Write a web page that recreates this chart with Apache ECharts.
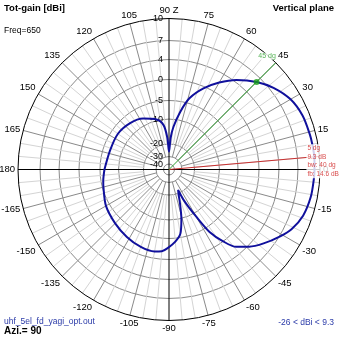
<!DOCTYPE html>
<html>
<head>
<meta charset="utf-8">
<script src="https://cdn.jsdelivr.net/npm/echarts@6/dist/echarts.min.js"></script>
<style>
  html, body { margin: 0; padding: 0; background: #fff; }
  #c { width: 339px; height: 339px; }
</style>
</head>
<body>
<div id="c"></div>
<script>
// Elevation angle (deg; 0 = horizon, 90 = zenith, +-180 = back horizon)
const ANGLES = [-180, -170, -165, -150, -135, -122, -110, -100, -95, -91, -85, -80, -76, -72, -69, -66, -64,
  -60, -57, -53, -49, -44, -38, -31, -26, -19, -11, -4, 0, 5, 10, 14, 22, 30, 38, 45, 53, 60, 67, 74, 79,
  84, 87, 90, 93, 97, 104, 117, 130, 145, 162, 180];
// Total gain at each angle (dBi)
const GAIN_DBI = [-6.2, -5.6, -5.3, -4.1, -3.3, -2.5, -1.8, -1.6, -1.9, -2.7, -4.2, -6.0, -9.8, -16, -19.5, -22.5, -16,
  -8.9, -3.7, 0, 2.5, 4.2, 5.6, 7.1, 8.0, 8.75, 9.1, 9.2, 9.25, 9.3, 9.25, 9.2, 9.05, 8.55, 7.5, 6.2, 4.35, 2.1, -0.45, -3.8, -7.8,
  -13, -17.5, -26, -17.5, -12.3, -9.7, -8.2, -7.3, -6.8, -6.9, -6.2];

// Gain rings (dBi) and their labels
const RING_DB = [10, 7, 4, 0, -5, -10, -20, -30, -40];
const RING_LABELS = ['10', '7', '4', '0', '-5', '-10', '-20', '-30', '-40'];

// Annotations
const MARK_ANGLE = 45;
const PEAK_ANGLE = 5;
const PEAK_GAIN = 9.3;
const BEAMWIDTH = 40;
const FRONT_BACK = 14.6;
const FREQ = 650;
const AZIMUTH = 90;
const FILE_NAME = 'uhf_5el_fd_yagi_opt.out';

// Radial gain scale: gain (dBi) -> fraction of the outer ring, piecewise between rings
const RING_FRAC = [1, 0.854, 0.728, 0.596, 0.457, 0.334, 0.169, 0.086, 0.036];
function gainScale(db) {
  if (db >= RING_DB[0]) return 1;
  for (let i = 0; i < RING_DB.length - 1; i++) {
    const hi = RING_DB[i], lo = RING_DB[i + 1];
    if (db <= hi && db >= lo) {
      const t = (db - lo) / (hi - lo);
      return RING_FRAC[i + 1] + t * (RING_FRAC[i] - RING_FRAC[i + 1]);
    }
  }
  const last = RING_DB.length - 1;
  return Math.max(0, RING_FRAC[last] * (1 - (RING_DB[last] - db) / 20));
}

const FONT = "'Liberation Sans', Arial, sans-serif";
const CENTER = [169, 169.5];
const R = 151;
const RING_VALUES = RING_DB.map(gainScale);
// the innermost ring label sits in its own axis so it is not dropped as an overlap
const RING_VALUES_OUTER = RING_VALUES.slice(0, -1);
const RING_VALUES_INNER = RING_VALUES.slice(-1);

const angleBase = { type: 'value', min: -180, max: 180, interval: 15, startAngle: 180, clockwise: false };
const hidden = { show: false };

function angleLabel(v) {
  if (v === -180) return '180';
  if (v === 180) return '';
  if (v === 90) return '90 Z';
  return String(v);
}
function ringLabel(v) {
  for (let i = 0; i < RING_VALUES.length; i++) {
    if (Math.abs(RING_VALUES[i] - v) < 1e-6) return RING_LABELS[i];
  }
  return '';
}
function ringLabelAxis(polarIndex, values) {
  return { polarIndex: polarIndex, type: 'value', min: 0, max: 1,
    axisLine: hidden, splitLine: hidden,
    axisTick: { show: false, customValues: values },
    axisLabel: { show: true, customValues: values, margin: 6, formatter: ringLabel,
      hideOverlap: false, showMinLabel: true, showMaxLabel: true, lineHeight: 7,
      fontFamily: FONT, fontSize: 9, color: '#000' } };
}

const patternData = ANGLES.map((a, i) => [gainScale(GAIN_DBI[i]), a]);
const markGain = GAIN_DBI[ANGLES.indexOf(MARK_ANGLE)];
const minGain = Math.min(...GAIN_DBI);
const maxGain = Math.max(...GAIN_DBI);

const T = 'rgba(0,0,0,0)';
const GRID = '#8a8a8a';

const option = {
  animation: false,
  backgroundColor: '#fff',
  title: [
    { text: 'Tot-gain [dBi]', left: 4, top: 3, padding: 0,
      textStyle: { fontFamily: FONT, fontSize: 9.5, fontWeight: 'bold', color: '#000' } },
    { text: 'Vertical plane', right: 5, top: 3, padding: 0,
      textStyle: { fontFamily: FONT, fontSize: 9.5, fontWeight: 'bold', color: '#000' } },
    { text: 'Freq=' + FREQ, left: 4, top: 26, padding: 0,
      textStyle: { fontFamily: FONT, fontSize: 8.5, fontWeight: 'normal', color: '#000' } },
    { text: FILE_NAME, left: 4, top: 317, padding: 0,
      textStyle: { fontFamily: FONT, fontSize: 8.5, fontWeight: 'normal', color: '#2a3aa8' } },
    { text: 'Azi.= ' + AZIMUTH, left: 4, top: 326, padding: 0,
      textStyle: { fontFamily: FONT, fontSize: 10, fontWeight: 'bold', color: '#000' } },
    { text: minGain + ' < dBi < ' + maxGain, right: 5, top: 318, padding: 0,
      textStyle: { fontFamily: FONT, fontSize: 8.5, fontWeight: 'normal', color: '#2a3aa8' } }
  ],
  polar: [
    { center: CENTER, radius: [0, R] },   // data, rings, outer circle, angle labels
    { center: CENTER, radius: [13, R] },  // 15 deg spokes
    { center: CENTER, radius: [25, R] },  // 5 deg spokes
    { center: CENTER, radius: [0, R] },   // ring labels along the zenith line
    { center: CENTER, radius: [0, R] }    // innermost ring label
  ],
  angleAxis: [
    Object.assign({}, angleBase, {
      polarIndex: 0,
      axisLine: { show: true, lineStyle: { color: '#000', width: 1 } },
      axisTick: hidden,
      axisLabel: { show: true, margin: 3,
        fontFamily: FONT, fontSize: 9.5, color: '#000', formatter: angleLabel },
      splitLine: { show: true, lineStyle: { width: 1, color: ['#000', T, T, T, T, T] } }
    }),
    Object.assign({}, angleBase, {
      polarIndex: 1,
      axisLine: hidden, axisTick: hidden, axisLabel: hidden,
      splitLine: { show: true, lineStyle: { width: 1, color: [T, GRID, GRID, GRID, GRID, GRID] } }
    }),
    Object.assign({}, angleBase, {
      polarIndex: 2,
      axisLine: hidden, axisTick: hidden, axisLabel: hidden, splitLine: hidden,
      minorTick: { show: false, splitNumber: 3 },
      minorSplitLine: { show: true, lineStyle: { width: 1, color: '#d4d4d4' } }
    }),
    { polarIndex: 3, type: 'value', min: 0, max: 360, startAngle: 90, show: false },
    { polarIndex: 4, type: 'value', min: 0, max: 360, startAngle: 90, show: false }
  ],
  radiusAxis: [
    { polarIndex: 0, type: 'value', min: 0, max: 1,
      axisLine: hidden, axisLabel: hidden,
      axisTick: { show: false, customValues: RING_VALUES.slice(1) },
      splitLine: { show: true, lineStyle: { color: GRID, width: 1 } } },
    { polarIndex: 1, type: 'value', min: 0, max: 1, show: false },
    { polarIndex: 2, type: 'value', min: 0, max: 1, show: false },
    ringLabelAxis(3, RING_VALUES_OUTER),
    ringLabelAxis(4, RING_VALUES_INNER)
  ],
  series: [
    { // peak direction
      type: 'line', coordinateSystem: 'polar', polarIndex: 0, symbol: 'none', silent: true,
      lineStyle: { color: '#c83030', width: 1 },
      data: [[0, PEAK_ANGLE], [1, PEAK_ANGLE]], z: 3
    },
    { // marker direction
      type: 'line', coordinateSystem: 'polar', polarIndex: 0, symbol: 'none', silent: true,
      lineStyle: { color: '#2ea02e', width: 1 },
      data: [[0, MARK_ANGLE], [1, MARK_ANGLE]], z: 3
    },
    { // radiation pattern
      type: 'line', coordinateSystem: 'polar', polarIndex: 0, symbol: 'none', smooth: 0.3,
      lineStyle: { color: '#10109c', width: 2 },
      data: patternData, z: 4
    },
    { // marker point on the pattern
      type: 'scatter', coordinateSystem: 'polar', polarIndex: 0, symbol: 'circle', symbolSize: 6,
      itemStyle: { color: '#18a018' },
      data: [[gainScale(markGain), MARK_ANGLE]], z: 5
    },
    { // marker angle text
      type: 'scatter', coordinateSystem: 'polar', polarIndex: 0, symbolSize: 0.1,
      itemStyle: { color: T },
      label: { show: true, position: 'inside', align: 'right', verticalAlign: 'bottom', offset: [1, -3],
        formatter: MARK_ANGLE + ' dg', color: '#2ea02e', fontFamily: FONT, fontSize: 7,
        backgroundColor: '#fff', padding: [0, 1, 0, 1] },
      data: [[1, MARK_ANGLE]], z: 6
    },
    { // peak summary text
      type: 'scatter', coordinateSystem: 'polar', polarIndex: 0, symbolSize: 0.1,
      itemStyle: { color: T },
      label: { show: true, position: 'inside', align: 'left', verticalAlign: 'top', offset: [-13, -12],
        formatter: [PEAK_ANGLE + ' dg', PEAK_GAIN + ' dB', 'bw: ' + BEAMWIDTH + ' dg', 'fb: ' + FRONT_BACK + ' dB'].join('\n'),
        color: '#d02020', fontFamily: FONT, fontSize: 6.5, lineHeight: 8.5,
        backgroundColor: '#fff', padding: [0, 1, 0, 1] },
      data: [[1, PEAK_ANGLE]], z: 6
    }
  ]
};

const chart = echarts.init(document.getElementById('c'));
chart.setOption(option);
</script>
</body>
</html>
